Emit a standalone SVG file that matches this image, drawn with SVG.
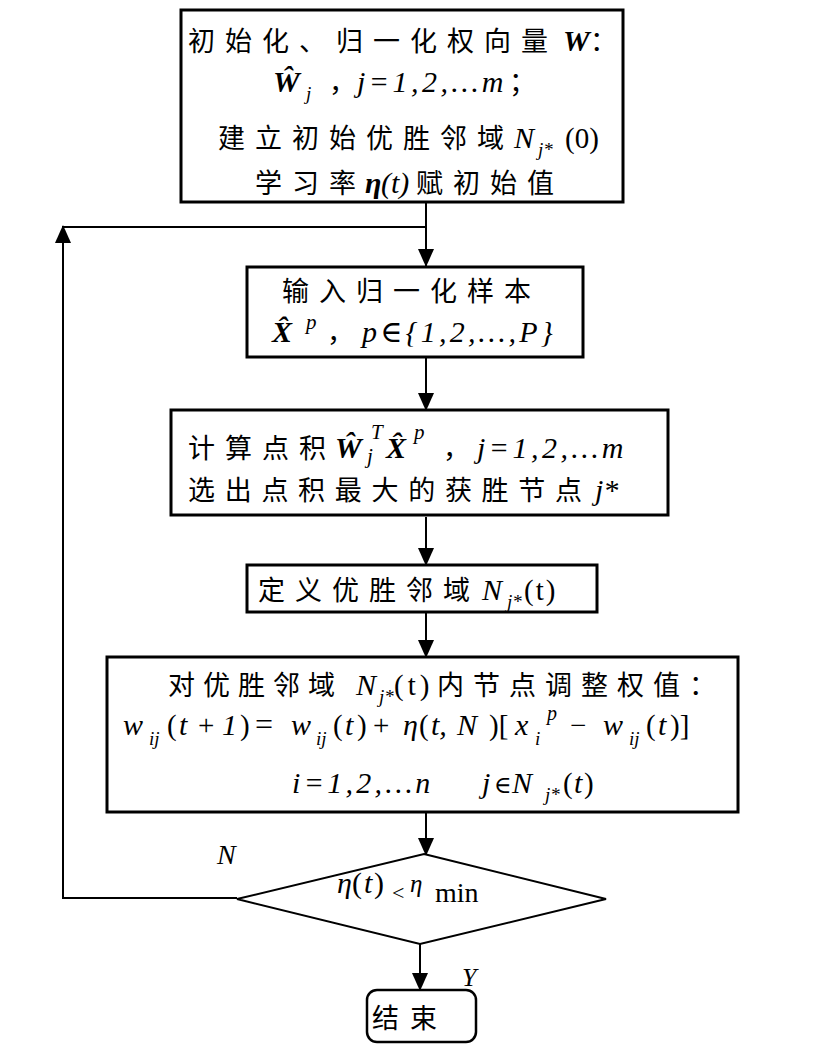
<svg xmlns="http://www.w3.org/2000/svg" width="817" height="1064" viewBox="0 0 817 1064">
<style>
.box{fill:#fff;stroke:#000;stroke-width:3}
.dia{fill:#fff;stroke:#000;stroke-width:2}
.conn{fill:none;stroke:#000;stroke-width:2}
.cn{font-family:"Noto Sans CJK SC",sans-serif;font-size:27px;letter-spacing:10px;fill:#000}
.m{font-family:"Liberation Serif","DejaVu Serif",serif;font-size:30px;font-style:italic;fill:#000}
.mb{font-family:"Liberation Serif","DejaVu Serif",serif;font-size:30px;font-style:italic;font-weight:bold;fill:#000}
.r{font-family:"Liberation Serif","DejaVu Serif",serif;font-size:29px;fill:#000}
.sub{font-size:19px}
.sup{font-size:21px}
</style>
<defs>
<marker id="ah" markerUnits="userSpaceOnUse" markerWidth="18" markerHeight="20" refX="17" refY="8" orient="auto">
<path d="M0,0 L18,8 L0,16 Z" fill="#000"/>
</marker>
</defs>

<g id="connectors">
<line class="conn" x1="426" y1="203" x2="426" y2="266" marker-end="url(#ah)"/>
<line class="conn" x1="63" y1="227" x2="426" y2="227"/>
<polyline class="conn" points="237,898 63,898 63,226" marker-end="url(#ah)"/>
<line class="conn" x1="426" y1="358" x2="426" y2="410" marker-end="url(#ah)"/>
<line class="conn" x1="426" y1="517" x2="426" y2="565" marker-end="url(#ah)"/>
<line class="conn" x1="426" y1="613" x2="426" y2="657" marker-end="url(#ah)"/>
<line class="conn" x1="426" y1="813" x2="426" y2="855" marker-end="url(#ah)"/>
<line class="conn" x1="420" y1="944" x2="420" y2="990" marker-end="url(#ah)"/>
<text class="m" x="217" y="864" style="font-size:28px">N</text>
<text class="m" x="462" y="986" style="font-size:26px">Y</text>
</g>

<g id="init">
<rect class="box" x="181" y="10" width="442" height="192"/>
<text class="cn" x="188" y="51">初始化、归一化权向量</text>
<text class="mb" x="563" y="51">W</text>
<text class="cn" x="590" y="51" style="letter-spacing:0">：</text>
<text class="mb" x="273" y="92">Ŵ</text>
<text class="m sub" x="306" y="100">j</text>
<text class="cn" x="329" y="92" style="letter-spacing:0">，</text>
<text class="m" x="357" y="92" style="letter-spacing:3.5px">j=1,2,…m</text>
<text class="cn" x="509" y="92" style="letter-spacing:0">；</text>
<text class="cn" x="218" y="148">建立初始优胜邻域</text>
<text class="m" x="514" y="148">N</text>
<text class="m sub" x="538" y="156">j*</text>
<text class="r" x="565" y="148">(0)</text>
<text class="cn" x="255" y="193">学习率</text>
<text class="m" x="365" y="193" style="font-weight:bold">η</text>
<text class="m" x="381" y="193">(t)</text>
<text class="cn" x="416" y="193">赋初始值</text>
</g>

<g id="input">
<rect class="box" x="247" y="267" width="336" height="90"/>
<text class="cn" x="282" y="301">输入归一化样本</text>
<text class="mb" x="272" y="342">X̂</text>
<text class="m sup" x="306" y="329">p</text>
<text class="cn" x="327" y="342" style="letter-spacing:0">，</text>
<text class="m" x="362" y="342" style="letter-spacing:3.2px">p∈{1,2,…,P}</text>
</g>

<g id="dot">
<rect class="box" x="171" y="410" width="497" height="105"/>
<text class="cn" x="188" y="458">计算点积</text>
<text class="mb" x="335" y="458">Ŵ</text>
<text class="m sup" x="367" y="463">j</text>
<text class="m sup" x="371" y="439">T</text>
<text class="mb" x="386" y="458">X̂</text>
<text class="m sup" x="414" y="439">p</text>
<text class="cn" x="443" y="458" style="letter-spacing:0">，</text>
<text class="m" x="477" y="458" style="letter-spacing:3.5px">j=1,2,…m</text>
<text class="cn" x="188" y="500" style="letter-spacing:9.7px">选出点积最大的获胜节点</text>
<text class="m" x="595" y="500">j*</text>
</g>

<g id="define">
<rect class="box" x="247" y="565" width="350" height="47"/>
<text class="cn" x="258" y="600" style="letter-spacing:10px">定义优胜邻域</text>
<text class="m" x="482" y="600">N</text>
<text class="m sub" x="507" y="608">j*</text>
<text class="r" x="524" y="600" style="letter-spacing:2px">(t)</text>
</g>

<g id="update">
<rect class="box" x="107" y="657" width="631" height="155"/>
<text class="cn" x="168" y="695" style="letter-spacing:8px">对优胜邻域</text>
<text class="m" x="356" y="695">N</text>
<text class="m sub" x="379" y="703">j*</text>
<text class="r" x="394" y="695" style="letter-spacing:4px">(t)</text>
<text class="cn" x="437" y="695" style="letter-spacing:9px">内节点调整权值：</text>
<text class="m" x="123" y="735">w</text>
<text class="m sub" x="149" y="745">ij</text>
<text class="r" x="167" y="735">(</text>
<text class="m" x="179" y="735">t</text>
<text class="r" x="198" y="735">+</text>
<text class="m" x="222" y="735">1</text>
<text class="r" x="240" y="735">)</text>
<text class="r" x="255" y="735" style="font-size:32px">=</text>
<text class="m" x="291" y="735">w</text>
<text class="m sub" x="316" y="745">ij</text>
<text class="r" x="333" y="735">(</text>
<text class="m" x="345" y="735">t</text>
<text class="r" x="357" y="735">)</text>
<text class="r" x="373" y="735">+</text>
<text class="m" x="403" y="735">η</text>
<text class="r" x="419" y="735">(</text>
<text class="m" x="431" y="735">t,</text>
<text class="m" x="457" y="735">N</text>
<text class="r" x="489" y="735">)[</text>
<text class="m" x="515" y="735">x</text>
<text class="m sub" x="535" y="745">i</text>
<text class="m sup" x="547" y="720" style="font-size:20px">p</text>
<text class="r" x="570" y="735">−</text>
<text class="m" x="603" y="735">w</text>
<text class="m sub" x="629" y="745">ij</text>
<text class="r" x="646" y="735">(</text>
<text class="m" x="658" y="735">t</text>
<text class="r" x="670" y="735">)]</text>
<text class="m" x="292" y="793" style="letter-spacing:3.3px">i=1,2,…n</text>
<text class="m" x="482" y="793">j</text>
<text class="r" x="494" y="793" style="font-size:24px">∈</text>
<text class="m" x="512" y="793">N</text>
<text class="m sub" x="545" y="801">j*</text>
<text class="r" x="563" y="793">(</text>
<text class="m" x="574" y="793">t</text>
<text class="r" x="584" y="793">)</text>
</g>

<g id="decision">
<polygon class="dia" points="424,854 606,899 420,944 237,899"/>
<text class="m" x="337" y="893">η</text>
<text class="r" x="352" y="893" style="font-size:30px">(</text>
<text class="m" x="364" y="893">t</text>
<text class="r" x="374" y="893" style="font-size:30px">)</text>
<text class="r" x="392" y="900" style="font-size:22px">&lt;</text>
<text class="m" x="410" y="892" style="font-size:25px">η</text>
<text class="r" x="435" y="902" style="font-size:28px">min</text>
</g>

<g id="end">
<rect class="box" x="367" y="990" width="109" height="52" rx="10" ry="10" style="stroke-width:2.5"/>
<text class="cn" x="372" y="1028" style="letter-spacing:11px">结束</text>
</g>
</svg>
